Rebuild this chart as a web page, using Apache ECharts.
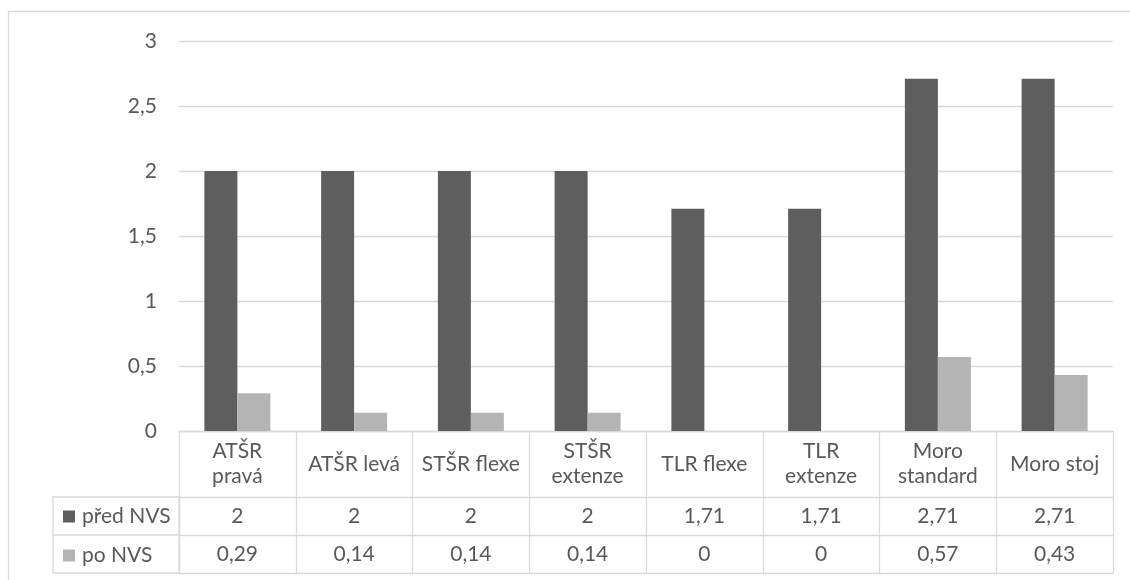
<!DOCTYPE html>
<html>
<head>
<meta charset="utf-8">
<script src="https://cdn.jsdelivr.net/npm/echarts@6/dist/echarts.min.js"></script>
<style>html,body{margin:0;padding:0;background:#fff}#c{width:1130px;height:580px}</style>
</head>
<body>
<div id="c"></div>
<script>
const categories = ['ATŠR\npravá', 'ATŠR levá', 'STŠR flexe', 'STŠR\nextenze', 'TLR flexe', 'TLR\nextenze', 'Moro\nstandard', 'Moro stoj'];
const seriesNames = ['před NVS', 'po NVS'];
const predNVS = [2, 2, 2, 2, 1.71, 1.71, 2.71, 2.71];
const poNVS = [0.29, 0.14, 0.14, 0.14, 0, 0, 0.57, 0.43];
const yTicks = [0, 0.5, 1, 1.5, 2, 2.5, 3];

const FONT = 'Lato';
const TXT = '#595959';
const LINE = '#d9d9d9';
const FS = 21;
const fmt = v => String(v).replace('.', ',');

const G = {left: 179, right: 17, top: 41, bottom: 149};
const HDR = 66, ROW = 38;
const tableTop = 580 - G.bottom;
const legendLeft = 53;

const chart = echarts.init(document.getElementById('c'), null, {renderer: 'canvas'});

function rowAxis(offset, tickLen, values, showLabel) {
  return {
    type: 'category', data: categories, position: 'bottom', offset: offset,
    gridIndex: 0,
    axisLine: {show: true, lineStyle: {color: LINE, width: 1.3}},
    axisTick: {show: tickLen > 0, length: tickLen, interval: 0, lineStyle: {color: LINE, width: 1.3}},
    axisLabel: showLabel ? {
      show: true, interval: 0, margin: tickLen / 2, verticalAlign: 'middle',
      fontFamily: FONT, fontSize: FS, color: TXT, lineHeight: 25,
      formatter: (val, idx) => values ? fmt(values[idx]) : val
    } : {show: false},
    splitLine: {show: false}
  };
}

const option = {
  animation: false,
  backgroundColor: '#fff',
  grid: {left: G.left, right: G.right, top: G.top, bottom: G.bottom, containLabel: false},
  legend: {
    orient: 'vertical', left: 63, top: tableTop + HDR + ROW / 2 - 10, padding: 0,
    itemWidth: 12, itemHeight: 12, itemGap: ROW - 20, icon: 'rect',
    textStyle: {fontFamily: FONT, fontSize: FS, color: TXT, lineHeight: 20, padding: [0, 0, 0, 2]},
    data: seriesNames, selectedMode: false
  },
  xAxis: [
    rowAxis(0, HDR, null, true),
    rowAxis(HDR, ROW, predNVS, true),
    rowAxis(HDR + ROW, ROW, poNVS, true),
    rowAxis(HDR + 2 * ROW, 0, null, false)
  ],
  yAxis: {
    type: 'value', min: yTicks[0], max: yTicks[yTicks.length - 1], interval: yTicks[1] - yTicks[0],
    axisLine: {show: false}, axisTick: {show: false},
    axisLabel: {margin: 22, fontFamily: FONT, fontSize: FS, color: TXT, formatter: v => fmt(v)},
    splitLine: {lineStyle: {color: LINE, width: 1.3}}
  },
  series: [
    {name: seriesNames[0], type: 'bar', xAxisIndex: 0, data: predNVS, barWidth: 33, barGap: '0%',
     itemStyle: {color: '#5e5e5e'}},
    {name: seriesNames[1], type: 'bar', xAxisIndex: 0, data: poNVS, barWidth: 33, barGap: '0%',
     itemStyle: {color: '#b4b4b4'}}
  ],
  graphic: [
    {type: 'rect', silent: true, shape: {x: 8.5, y: 11.5, width: 1200, height: 700},
     style: {fill: 'none', stroke: LINE, lineWidth: 1.3}},
    {type: 'rect', silent: true, shape: {x: legendLeft, y: tableTop + HDR, width: G.left - legendLeft, height: 2 * ROW},
     style: {fill: 'none', stroke: LINE, lineWidth: 1.3}},
    {type: 'line', silent: true, shape: {x1: legendLeft, y1: tableTop + HDR + ROW, x2: G.left, y2: tableTop + HDR + ROW},
     style: {stroke: LINE, lineWidth: 1.3}}
  ]
};
chart.setOption(option);
</script>
</body>
</html>
